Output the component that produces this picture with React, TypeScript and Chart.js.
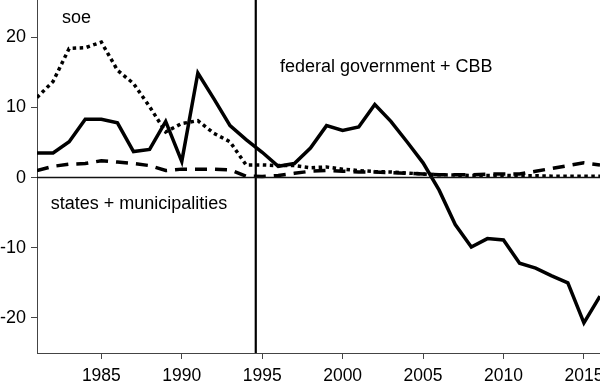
import React, { useEffect, useRef } from "react";
import { Chart, registerables } from "chart.js";

Chart.register(...registerables);

const years = [
  1981, 1982, 1983, 1984, 1985, 1986, 1987, 1988, 1989, 1990, 1991, 1992,
  1993, 1994, 1995, 1996, 1997, 1998, 1999, 2000, 2001, 2002, 2003, 2004,
  2005, 2006, 2007, 2008, 2009, 2010, 2011, 2012, 2013, 2014, 2015, 2016,
];

const federal = [
  3.5, 3.5, 5.1, 8.3, 8.3, 7.8, 3.7, 4.0, 8.0, 2.3, 14.9, 11.2,
  7.4, 5.4, 3.6, 1.6, 2.0, 4.2, 7.4, 6.7, 7.2, 10.4, 8.0, 5.1,
  2.1, -1.8, -6.7, -9.9, -8.7, -8.9, -12.2, -12.9, -14.0, -15.0, -20.7, -16.9,
];

const soe = [
  11.4, 13.7, 18.4, 18.5, 19.3, 15.3, 13.4, 10.1, 6.5, 7.7, 8.1, 6.3,
  5.1, 1.8, 1.8, 1.7, 1.7, 1.4, 1.5, 1.2, 1.0, 0.85, 0.8, 0.65,
  0.5, 0.4, 0.35, 0.3, 0.3, 0.3, 0.25, 0.25, 0.2, 0.2, 0.2, 0.2,
];

const states = [
  1.0, 1.6, 1.9, 2.0, 2.4, 2.2, 2.0, 1.7, 1.0, 1.2, 1.2, 1.2,
  1.1, 0.2, 0.15, 0.3, 0.6, 0.9, 1.0, 0.9, 0.8, 0.8, 0.7, 0.6,
  0.5, 0.4, 0.4, 0.4, 0.5, 0.5, 0.5, 0.9, 1.3, 1.7, 2.1, 1.8,
];

const xTicks = [1985, 1990, 1995, 2000, 2005, 2010, 2015];
const yTicks = [-20, -10, 0, 10, 20];
const xMin = 1981;
const xMax = 2016;
const yMin = -25;
const yMax = 25.3;
const regimeBreak = 1994.6;

const labels = [
  { text: "soe", x: 1982.55, y: 22.7 },
  { text: "federal government + CBB", x: 1996.1, y: 15.8 },
  { text: "states + municipalities", x: 1981.85, y: -3.75 },
];

const FONT = "'Liberation Sans', Arial, Helvetica, sans-serif";

const textPlugin = {
  id: "textLabels",
  afterDatasetsDraw(chart: any) {
    const { ctx, scales } = chart;
    ctx.save();
    ctx.fillStyle = "#000";
    ctx.font = `18px ${FONT}`;
    ctx.textBaseline = "middle";
    ctx.textAlign = "left";
    for (const l of labels) {
      ctx.fillText(l.text, scales.x.getPixelForValue(l.x), scales.y.getPixelForValue(l.y));
    }
    ctx.restore();
  },
};

export default function App() {
  const ref = useRef<HTMLCanvasElement>(null);
  useEffect(() => {
    document.body.style.margin = "0";
    const toPts = (arr: number[]) => arr.map((v, i) => ({ x: years[i], y: v }));
    const chart = new Chart(ref.current!, {
      type: "line",
      data: {
        datasets: [
          {
            label: "zero",
            data: [{ x: xMin, y: 0 }, { x: xMax, y: 0 }],
            borderColor: "#111",
            borderWidth: 1.5,
            pointRadius: 0,
          },
          {
            label: "break",
            data: [{ x: regimeBreak, y: yMin }, { x: regimeBreak, y: yMax }],
            borderColor: "#000",
            borderWidth: 2.2,
            pointRadius: 0,
          },
          {
            label: "states + municipalities",
            data: toPts(states),
            borderColor: "#000",
            borderWidth: 3.5,
            borderDash: [12, 8],
            pointRadius: 0,
          },
          {
            label: "soe",
            data: toPts(soe),
            borderColor: "#000",
            borderWidth: 3.5,
            borderDash: [3.5, 3.5],
            pointRadius: 0,
          },
          {
            label: "federal government + CBB",
            data: toPts(federal),
            borderColor: "#000",
            borderWidth: 3.5,
            pointRadius: 0,
            borderJoinStyle: "miter",
          },
        ],
      },
      options: {
        animation: false,
        responsive: false,
        maintainAspectRatio: false,
        layout: { padding: 0 },
        plugins: { legend: { display: false }, tooltip: { enabled: false } },
        scales: {
          x: {
            type: "linear",
            min: xMin,
            max: xMax,
            afterBuildTicks: (s: any) => {
              s.ticks = xTicks.map((v) => ({ value: v }));
            },
            afterFit: (s: any) => {
              s.height = 31;
              s.paddingLeft = 0;
              s.paddingRight = 0;
            },
            grid: { display: true, drawOnChartArea: false, drawTicks: true, tickLength: 6, color: "#444" },
            border: { display: true, color: "#444", width: 1 },
            ticks: {
              color: "#000",
              font: { family: FONT, size: 17.5 },
              padding: 7,
              maxRotation: 0,
              callback: (v: any) => String(v),
            },
          },
          y: {
            type: "linear",
            min: yMin,
            max: yMax,
            afterBuildTicks: (s: any) => {
              s.ticks = yTicks.map((v) => ({ value: v }));
            },
            afterFit: (s: any) => {
              s.width = 37;
              s.paddingTop = 0;
              s.paddingBottom = 0;
            },
            grid: { display: true, drawOnChartArea: false, drawTicks: true, tickLength: 6, color: "#444" },
            border: { display: true, color: "#444", width: 1 },
            ticks: {
              color: "#000",
              font: { family: FONT, size: 18 },
              padding: 5,
              callback: (v: any) => String(v),
            },
          },
        },
      },
      plugins: [textPlugin],
    });
    return () => chart.destroy();
  }, []);
  return (
    <div style={{ position: "relative", width: 600, height: 384 }}>
      <canvas ref={ref} width={600} height={384} style={{ width: 600, height: 384 }} />
    </div>
  );
}
